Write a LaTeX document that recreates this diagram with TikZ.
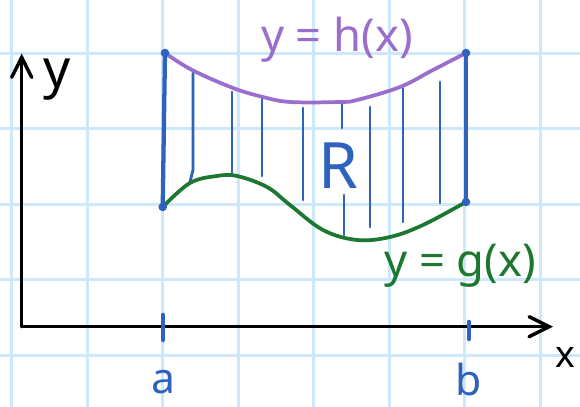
\documentclass[tikz,border=0pt]{standalone}
\usepackage{fontspec}
\setmainfont{Noto Sans}
\usetikzlibrary{arrows.meta}

\definecolor{gridblue}{RGB}{205,232,250}
\definecolor{inkblue}{RGB}{46,98,190}
\definecolor{inkpurple}{RGB}{155,110,205}
\definecolor{inkgreen}{RGB}{28,120,48}

\begin{document}
\begin{tikzpicture}[
    x=0.375pt, y=-0.375pt,
    gridline/.style={draw=gridblue, line width=1.1pt},
    axis/.style={draw=black, line width=1.3pt, line cap=round, line join=round, -{Straight Barb[length=7.5pt, width=7.5pt, line cap=round]}},
    bound/.style={draw=inkblue, line width=1.6pt, line cap=round},
    hatch/.style={draw=inkblue, line width=1.05pt, line cap=round},
    tick/.style={draw=inkblue, line width=1.7pt, line cap=round},
    hcurve/.style={draw=inkpurple, line width=1.4pt, line cap=round},
    gcurve/.style={draw=inkgreen, line width=1.4pt, line cap=round},
    corner/.style={fill=inkblue},
    lbl/.style={inner sep=0pt, font=\fontsize{17}{20}\selectfont}
]
    \fill[white] (0,0) rectangle (580,407);
    \useasboundingbox (0,0) rectangle (580,407);

    % graph paper
    \foreach \gx in {11.7, 87.2, 162.7, 238.2, 313.7, 389.2, 464.7, 540.2}
        \draw[gridline] (\gx,0) -- (\gx,407);
    \foreach \gy in {53.3, 128.8, 204.3, 279.8, 355.3}
        \draw[gridline] (0,\gy) -- (580,\gy);

    % axes
    \coordinate (O) at (21.7,326.7);
    \coordinate (ytip) at (21.7,53.5);
    \coordinate (xtip) at (553,326.7);
    \draw[axis] (O) -- (ytip);
    \draw[axis] (O) -- (xtip);
    \node[lbl, font=\fontsize{20}{24}\selectfont] (ylbl) at (57,80) {y};
    \node[lbl, font=\fontsize{14}{16}\selectfont] (xlbl) at (565,358) {x};

    % corners of the region
    \coordinate (ha) at (165,53);
    \coordinate (hb) at (466,53);
    \coordinate (ga) at (162.7,207);
    \coordinate (gb) at (466,202);

    % hatching
    \draw[hatch] (193,73) -- (193,170) -- (190,182);
    \foreach \hx/\ht/\hb in {232/92/173, 262/98/176, 303/108/200, 342/102/128,
                             344/195/235, 370/107/227, 403/88/222, 440/82/203}
        \draw[hatch] (\hx,\ht) -- (\hx,\hb);

    % top and bottom curves
    \draw[hcurve] plot[smooth, tension=0.6] coordinates {(ha) (192,70) (233,88) (263,97)
        (290,102) (340,102) (357,100) (400,87) (433,70) (466,53)};
    \draw[gcurve] plot[smooth, tension=0.6] coordinates {(ga) (190,183) (217,176) (237,176)
        (267,187) (290,205) (323,230) (357,240) (390,237) (423,225) (gb)};

    % sides
    \draw[bound] (ha) -- (ga);
    \draw[bound] (hb) -- (gb);
    \foreach \c in {ha, hb, ga, gb}
        \fill[corner] (\c) circle[radius=1.6pt];

    % ticks
    \coordinate (ta) at (163,315);
    \coordinate (tb) at (469,322);
    \draw[tick] (ta) -- ++(0,25);
    \draw[tick] (tb) -- ++(0,17);

    % labels
    \node[lbl, text=inkpurple] (hlbl) at (337,40) {y = h(x)};
    \node[lbl, text=inkgreen] (glbl) at (460,266) {y = g(x)};
    \node[lbl, text=inkblue, font=\fontsize{24}{28}\selectfont] (Rlbl) at (338,166) {R};
    \node[lbl, text=inkblue, font=\fontsize{16}{18}\selectfont] (albl) at (163,382) {a};
    \node[lbl, text=inkblue, font=\fontsize{16}{18}\selectfont] (blbl) at (469,380) {b};
\end{tikzpicture}
\end{document}
